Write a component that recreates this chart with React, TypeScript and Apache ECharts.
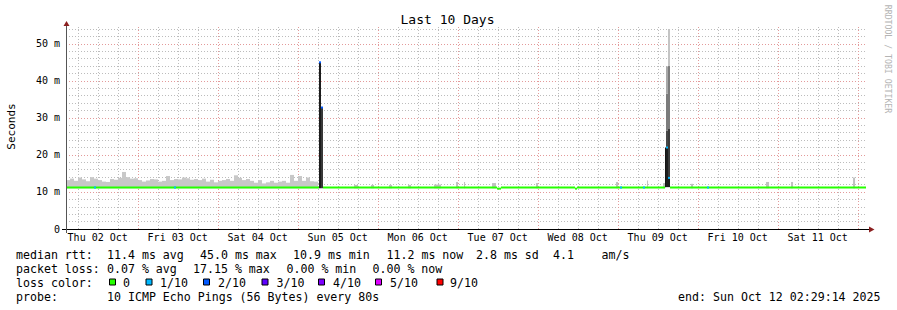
import React, { useEffect, useRef } from 'react';
import * as echarts from 'echarts';

// Time axis in hours since Thu 02 Oct 00:00; window = last 10 days ending Sun Oct 12 02:29:14
const START_H = 2.4872;
const END_H = 242.4872;

const dayLabels = ['Thu 02 Oct', 'Fri 03 Oct', 'Sat 04 Oct', 'Sun 05 Oct', 'Mon 06 Oct', 'Tue 07 Oct', 'Wed 08 Oct', 'Thu 09 Oct', 'Fri 10 Oct', 'Sat 11 Oct'];
const dayLabelHours = [12, 36, 60, 84, 108, 132, 156, 180, 204, 228];

// smoke (ms) before the Sunday spike, one value per 1.2 h step from START_H
const smokeStepH = 1.2;
const smokeLow = 11.0;
const smokeTop = [
  13.2, 13.6, 13.0, 13.9, 13.4, 12.9, 14.0, 13.6, 13.2, 12.8, 12.7, 13.5, 13.3, 13.8, 15.4, 14.0,
  13.6, 13.7, 13.2, 12.8, 13.1, 13.5, 13.4, 12.8, 13.0, 14.3, 13.2, 13.5, 13.4, 13.9, 13.7, 13.3,
  13.5, 13.2, 13.6, 12.8, 13.3, 12.6, 13.0, 13.2, 13.5, 13.0, 14.5, 13.8, 13.2, 13.5, 13.0, 12.5,
  13.2, 12.3, 12.6, 13.0, 12.5, 12.8, 13.0, 12.5, 14.6, 13.0, 14.3, 13.0, 13.9, 12.9, 12.8,
];

// small smoke bumps later in the period
const bumpStart = [88.9, 94.0, 99.4, 105.1, 112.9, 119.5, 121.9, 130.3, 143.5, 167.5, 176.8, 181.6, 190.0, 212.5, 220.0, 238.6];
const bumpWidth = [1.2, 0.9, 0.9, 0.9, 2.1, 0.6, 0.3, 1.2, 0.6, 0.6, 0.3, 0.6, 0.6, 0.9, 0.6, 0.6];
const bumpTop = [11.9, 11.9, 11.9, 11.9, 12.0, 12.7, 12.7, 12.4, 12.4, 12.7, 13.1, 12.4, 12.2, 12.7, 12.7, 13.9];

// spike smoke bands
const spikeStart = [78.387, 78.987, 182.187, 182.487, 182.487, 182.487, 182.487, 183.087, 183.087, 183.087, 183.087];
const spikeEnd = [78.987, 79.587, 182.487, 183.087, 183.087, 183.087, 183.087, 183.687, 183.687, 183.687, 183.687];
const spikeLow = [11.0, 11.0, 11.3, 11.3, 22.0, 26.5, 36.5, 11.3, 13.8, 27.0, 44.0];
const spikeHigh = [45.0, 32.8, 22.0, 22.0, 26.5, 36.5, 43.9, 13.8, 27.0, 44.0, 54.2];
const spikeShade = ['#1c1c1c', '#383838', '#141414', '#1e1e1e', '#484848', '#7c7c7c', '#a8a8a8', '#1e1e1e', '#3c3c3c', '#7c7c7c', '#c4c4c4'];

// median rtt (ms), loss 0 segments
const medianStart = [2.4872, 79.587, 131.787, 132.987, 155.187, 155.787, 183.687];
const medianEnd = [78.387, 131.787, 132.987, 155.187, 155.787, 182.187, 242.4872];
const medianValue = [11.2, 11.2, 10.9, 11.2, 10.9, 11.2, 11.2];

// median segments with packet loss
const lossStart = [10.887, 34.887, 78.387, 78.987, 168.687, 175.587, 182.487, 183.087, 194.787];
const lossEnd = [11.487, 35.487, 78.987, 79.587, 169.287, 176.187, 183.087, 183.687, 195.387];
const lossValue = [11.2, 11.2, 45.0, 32.8, 11.2, 11.2, 22.0, 13.8, 11.2];
const lossLevel = [1, 1, 2, 2, 1, 1, 1, 1, 1];

const lossLegendLabels = ['0', '1/10', '2/10', '3/10', '4/10', '5/10', '9/10'];
const lossLegendColors = ['#26ff00', '#00b8ff', '#0059ff', '#5e00ff', '#7e00ff', '#dd00ff', '#ff0000'];

const statLines = [
  ['median rtt:', '11.4 ms avg', '45.0 ms max', '10.9 ms min', '11.2 ms now', '2.8 ms sd', '4.1', 'am/s'],
  ['packet loss:', '0.07 % avg', '17.15 % max', '0.00 % min', '0.00 % now'],
];
const probeText = '10 ICMP Echo Pings (56 Bytes) every 80s';
const endText = 'end: Sun Oct 12 02:29:14 2025';

const FONT = '"DejaVu Sans Mono", monospace';
const MINOR = '#bcbcbc';
const MAJOR = '#e39a9a';

export default function App() {
  const ref = useRef<HTMLDivElement>(null);
  useEffect(() => {
    const chart = echarts.init(ref.current as HTMLDivElement, null, { renderer: 'svg' });

    const bandRender = (params: any, api: any) => {
      const a = api.coord([api.value(0), api.value(3)]);
      const b = api.coord([api.value(1), api.value(2)]);
      return {
        type: 'rect',
        shape: { x: a[0], y: a[1], width: b[0] - a[0], height: b[1] - a[1] },
        style: { fill: api.visual('color') },
      };
    };
    const lineRender = (params: any, api: any) => {
      const a = api.coord([api.value(0), api.value(2)]);
      const b = api.coord([api.value(1), api.value(2)]);
      return {
        type: 'rect',
        shape: { x: a[0], y: a[1] - 1, width: b[0] - a[0], height: 2 },
        style: { fill: api.visual('color') },
      };
    };
    const vGridRender = (params: any, api: any) => {
      const x = Math.round(api.coord([api.value(0), 0])[0]) + 0.5;
      const cs = params.coordSys;
      return {
        type: 'line',
        shape: { x1: x, y1: cs.y - 2, x2: x, y2: cs.y + cs.height },
        style: { stroke: api.visual('color'), lineWidth: 1, lineDash: [1, 2] },
      };
    };

    const smokeData = smokeTop.map((t, i) => [START_H + i * smokeStepH, START_H + (i + 1) * smokeStepH, smokeLow, t]);
    const bumpData = bumpStart.map((s, i) => [s, s + bumpWidth[i], smokeLow, bumpTop[i]]);
    const spikeData = spikeStart.map((s, i) => ({ value: [s, spikeEnd[i], spikeLow[i], spikeHigh[i]], itemStyle: { color: spikeShade[i] } }));
    const medianData = medianStart.map((s, i) => [s, medianEnd[i], medianValue[i]]);
    const lossData = lossStart.map((s, i) => ({ value: [s, lossEnd[i], lossValue[i]], itemStyle: { color: lossLegendColors[lossLevel[i]] } }));

    const gridData: any[] = [];
    for (let h = 6; h <= 240; h += 6) gridData.push({ value: [h], itemStyle: { color: h % 24 === 0 ? MAJOR : MINOR } });

    const graphic: any[] = [];
    graphic.push({ type: 'text', x: 447.5, y: 19, style: { text: 'Last 10 Days', fontFamily: FONT, fontSize: 13, fill: '#000', align: 'center', verticalAlign: 'middle' } });
    graphic.push({ type: 'text', x: 11, y: 126.5, rotation: Math.PI / 2, style: { text: 'Seconds', fontFamily: FONT, fontSize: 11, fill: '#000', align: 'center', verticalAlign: 'middle' } });
    graphic.push({ type: 'text', x: 887.5, y: 59, rotation: -Math.PI / 2, style: { text: 'RRDTOOL / TOBI OETIKER', fontFamily: FONT, fontSize: 8.2, fill: '#b4b4b4', align: 'center', verticalAlign: 'middle' } });
    // axes
    graphic.push({ type: 'line', shape: { x1: 62, y1: 229.5, x2: 869, y2: 229.5 }, style: { stroke: '#000', lineWidth: 1 }, z: 10 });
    graphic.push({ type: 'line', shape: { x1: 66.5, y1: 233, x2: 66.5, y2: 25 }, style: { stroke: '#555', lineWidth: 1 }, z: 10 });
    graphic.push({ type: 'polygon', shape: { points: [[63.5, 26], [69.5, 26], [66.5, 21]] }, style: { fill: '#8b1f1f' }, z: 10 });
    graphic.push({ type: 'polygon', shape: { points: [[869, 226.5], [869, 232.5], [874.5, 229.5]] }, style: { fill: '#8b1f1f' }, z: 10 });

    // stats
    const statX = [
      [16, 107, 200, 293, 386.5, 476, 553, 601.5],
      [16, 107, 193, 286.5, 372.5],
    ];
    const lineY = [255.4, 269.2, 283.2, 297.2];
    statLines.forEach((items, li) => {
      items.forEach((t, i) => {
        graphic.push({ type: 'text', x: statX[li][i], y: lineY[li], style: { text: t, fontFamily: FONT, fontSize: 11.6, fill: '#000', align: 'left', verticalAlign: 'middle' } });
      });
    });
    graphic.push({ type: 'text', x: 16, y: lineY[2], style: { text: 'loss color:', fontFamily: FONT, fontSize: 11.6, fill: '#000', align: 'left', verticalAlign: 'middle' } });
    const boxX = [109.5, 146, 203.5, 262, 318.5, 375.5, 437];
    const boxTextX = [123, 160, 218, 276.5, 333, 390, 450];
    lossLegendLabels.forEach((lab, i) => {
      graphic.push({ type: 'rect', shape: { x: boxX[i], y: 279, width: 6, height: 6 }, style: { fill: lossLegendColors[i], stroke: '#000', lineWidth: 1 } });
      graphic.push({ type: 'text', x: boxTextX[i], y: lineY[2], style: { text: lab, fontFamily: FONT, fontSize: 11.6, fill: '#000', align: 'left', verticalAlign: 'middle' } });
    });
    graphic.push({ type: 'text', x: 16, y: lineY[3], style: { text: 'probe:', fontFamily: FONT, fontSize: 11.6, fill: '#000', align: 'left', verticalAlign: 'middle' } });
    graphic.push({ type: 'text', x: 107, y: lineY[3], style: { text: probeText, fontFamily: FONT, fontSize: 11.6, fill: '#000', align: 'left', verticalAlign: 'middle' } });
    graphic.push({ type: 'text', x: 880.5, y: lineY[3], style: { text: endText, fontFamily: FONT, fontSize: 11.6, fill: '#000', align: 'right', verticalAlign: 'middle' } });

    const option: any = {
      animation: false,
      backgroundColor: '#ffffff',
      grid: { left: 66, right: 31, top: 29, bottom: 81, containLabel: false, outerBoundsMode: 'none' },
      xAxis: {
        type: 'value',
        min: START_H,
        max: END_H,
        axisLine: { show: false },
        axisTick: { show: false },
        axisLabel: {
          customValues: dayLabelHours,
          formatter: (v: number) => {
            const i = dayLabelHours.findIndex((h) => Math.abs(h - v) < 0.01);
            return i >= 0 ? dayLabels[i] : '';
          },
          fontFamily: FONT,
          fontSize: 10,
          color: '#000',
          margin: 3,
        },
        splitLine: { show: false },
      },
      yAxis: {
        type: 'value',
        min: 0,
        max: 54,
        interval: 2,
        axisLine: { show: false },
        axisTick: { show: false },
        axisLabel: {
          formatter: (v: number) => (Math.round(v) % 10 === 0 ? (v === 0 ? '0' : `${v} m`) : ''),
          fontFamily: FONT,
          fontSize: 10,
          color: '#000',
          margin: 6,
        },
        splitLine: { show: true, lineStyle: { color: [MAJOR, MINOR, MINOR, MINOR, MINOR], type: [1, 2], width: 1 } },
      },
      series: [
        { type: 'custom', name: 'vgrid', renderItem: vGridRender, data: gridData, encode: { x: 0 }, z: 1, clip: false, silent: true },
        { type: 'custom', name: 'smoke', renderItem: bandRender, data: smokeData, encode: { x: [0, 1], y: [2, 3] }, itemStyle: { color: '#c8c8c8' }, z: 2, clip: true },
        { type: 'custom', name: 'bumps', renderItem: bandRender, data: bumpData, encode: { x: [0, 1], y: [2, 3] }, itemStyle: { color: '#c0c0c0' }, z: 2, clip: true },
        { type: 'custom', name: 'spikes', renderItem: bandRender, data: spikeData, encode: { x: [0, 1], y: [2, 3] }, z: 3, clip: true },
        { type: 'custom', name: 'median', renderItem: lineRender, data: medianData, encode: { x: [0, 1], y: 2 }, itemStyle: { color: lossLegendColors[0] }, z: 4, clip: true },
        { type: 'custom', name: 'loss', renderItem: lineRender, data: lossData, encode: { x: [0, 1], y: 2 }, z: 5, clip: true },
      ],
      graphic,
    };
    chart.setOption(option);
    return () => chart.dispose();
  }, []);
  return <div ref={ref} style={{ position: 'absolute', left: 0, top: 0, width: 897, height: 310 }} />;
}
